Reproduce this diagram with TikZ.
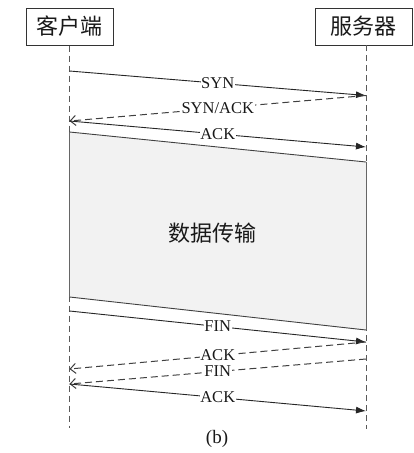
\documentclass[tikz,border=0pt]{standalone}
\usepackage{fontspec}
\setmainfont{Liberation Serif}
\newfontfamily\cjk{Noto Sans CJK SC}
\usetikzlibrary{arrows.meta}
\begin{document}
\begin{tikzpicture}[x=1pt,y=-1pt,
  box/.style={draw=black!80, line width=1pt, minimum height=37pt, inner sep=0pt, font=\cjk\fontsize{22}{22}\selectfont, text=black!90},
  life/.style={draw=black!65, dash pattern=on 6pt off 4pt, line width=1pt},
  msg/.style={draw=black!85, line width=0.9pt, -{Latex[length=10pt,width=7pt]}},
  reply/.style={draw=black!75, line width=1pt, dash pattern=on 7pt off 4pt, -{Straight Barb[length=5.5pt,width=10pt]}},
  lbl/.style={fill=white, inner sep=0.6pt, font=\fontsize{16.5}{16.5}\selectfont, text=black!90},
  region/.style={fill=black!5},
  edge/.style={draw=black!75, line width=0.9pt}
]
\useasboundingbox (0,0) rectangle (414,453);
\fill[white] (0,0) rectangle (414,453);
% actors
\node[box, minimum width=87pt] (client) at (69.5,26.5) {客户端};
\node[box, minimum width=97pt] (server) at (363.5,26.5) {服务器};
\coordinate (cend) at (69.5,428);
\coordinate (send) at (366,429);
\coordinate (stop) at (366,45);
\draw[life] (client.south) -- (cend);
\draw[life] (stop) -- (send);
% lifeline points
\coordinate (c1) at (69.5,71);   \coordinate (s1) at (366,95.5);
\coordinate (c2) at (69.5,121);  \coordinate (s2) at (366,95.5);
\coordinate (c3) at (69.5,121);  \coordinate (s3) at (366,147);
\coordinate (dtl) at (69.5,132); \coordinate (dtr) at (366,162);
\coordinate (dbl) at (69.5,297); \coordinate (dbr) at (366,330);
\coordinate (c4) at (69.5,311);  \coordinate (s4) at (366,342);
\coordinate (c5) at (69.5,369);  \coordinate (s5) at (366,342);
\coordinate (c6) at (69.5,384);  \coordinate (s6) at (366,359);
\coordinate (c7) at (69.5,384);  \coordinate (s7) at (366,411);
% data transfer region
\fill[region] (dtl) -- (dtr) -- (dbr) -- (dbl) -- cycle;
\draw[edge] (dtl) -- (dtr);
\draw[edge] (dbl) -- (dbr);
\draw[draw=black!60, line width=1pt] (dtl) -- (dbl);
\draw[draw=black!60, line width=1pt] (dtr) -- (dbr);
\node[font=\cjk\fontsize{22}{22}\selectfont, text=black!90] (dt) at (212,233) {数据传输};
% messages
\draw[msg] (c1) -- node[lbl] (l1) {SYN} (s1);
\draw[reply] (s2) -- node[lbl] (l2) {SYN/ACK} (c2);
\draw[msg] (c3) -- node[lbl] (l3) {ACK} (s3);
\draw[msg] (c4) -- node[lbl] (l4) {FIN} (s4);
\draw[reply] (s5) -- node[lbl] (l5) {ACK} (c5);
\draw[reply] (s6) -- node[lbl] (l6) {FIN} (c6);
\draw[msg] (c7) -- node[lbl] (l7) {ACK} (s7);
% caption
\node[font=\fontsize{19}{19}\selectfont, text=black!90] (cap) at (217,439) {(b)};
\end{tikzpicture}
\end{document}
